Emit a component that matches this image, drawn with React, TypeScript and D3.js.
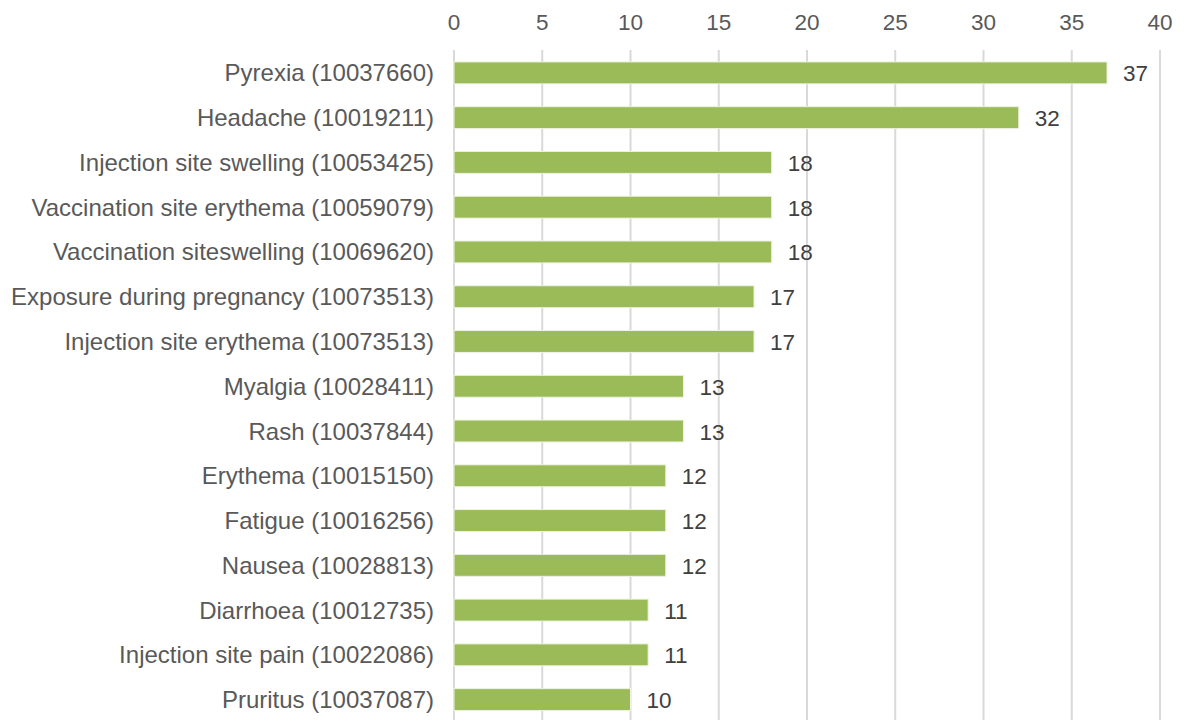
import React from "react";
import * as d3 from "d3";

const categories = [
  "Pyrexia (10037660)",
  "Headache (10019211)",
  "Injection site swelling (10053425)",
  "Vaccination site erythema (10059079)",
  "Vaccination siteswelling (10069620)",
  "Exposure during pregnancy (10073513)",
  "Injection site erythema (10073513)",
  "Myalgia (10028411)",
  "Rash (10037844)",
  "Erythema (10015150)",
  "Fatigue (10016256)",
  "Nausea (10028813)",
  "Diarrhoea (10012735)",
  "Injection site pain (10022086)",
  "Pruritus (10037087)",
];
const values = [37, 32, 18, 18, 18, 17, 17, 13, 13, 12, 12, 12, 11, 11, 10];
const ticks = [0, 5, 10, 15, 20, 25, 30, 35, 40];

const W = 1184;
const H = 720;

export default function App() {
  const x = d3.scaleLinear().domain([0, 40]).range([454, 1160]);
  const y = d3.scaleBand<string>().domain(categories).range([50.5, 722]).paddingInner(0.51).paddingOuter(0.255);
  const font = "'Liberation Sans', Arial, sans-serif";
  return (
    <svg width={W} height={H} style={{ position: "absolute", left: 0, top: 0, background: "#fff" }} fontFamily={font}>
      {ticks.map((t) => (
        <g key={t}>
          <line x1={x(t)} x2={x(t)} y1={50} y2={H} stroke="#d9d9d9" strokeWidth={2} />
          <text x={x(t)} y={22} textAnchor="middle" dominantBaseline="central" fontSize={22.5} fill="#595959">
            {t}
          </text>
        </g>
      ))}
      {categories.map((c, i) => {
        const yc = (y(c) as number) + y.bandwidth() / 2;
        return (
          <g key={c}>
            <rect
              x={x(0)}
              y={y(c) as number}
              width={x(values[i]) - x(0)}
              height={y.bandwidth()}
              fill="#9bbb59"
              stroke="#eef3e4"
              strokeWidth={1}
            />
            <text x={434} y={yc} textAnchor="end" dominantBaseline="central" fontSize={24} fill="#595959">
              {c}
            </text>
            <text x={x(values[i]) + 16} y={yc + 1} textAnchor="start" dominantBaseline="central" fontSize={22.5} fill="#404040">
              {values[i]}
            </text>
          </g>
        );
      })}
    </svg>
  );
}
